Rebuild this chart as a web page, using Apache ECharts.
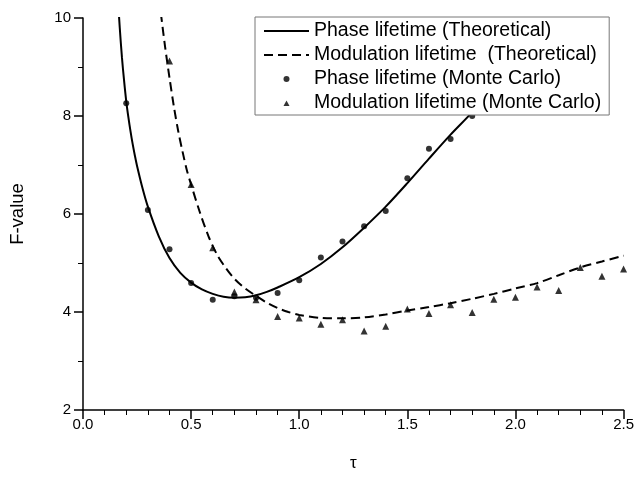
<!DOCTYPE html>
<html><head><meta charset="utf-8">
<script src="https://cdn.jsdelivr.net/npm/echarts@6/dist/echarts.min.js"></script>
<style>html,body{margin:0;padding:0;background:#fff}#c{width:637px;height:477px}</style>
</head><body><div id="c"></div>
<script>
// Theoretical curves
const phaseTheoTau = [0.16,0.17,0.18,0.19,0.20,0.21,0.22,0.23,0.24,0.25,0.275,0.30,0.35,0.40,0.45,0.50,0.55,0.60,0.65,0.70,0.75,0.80,0.85,0.90,1.00,1.10,1.20,1.30,1.40,1.50,1.60,1.70,1.80,1.90,2.00,2.10,2.20];
const phaseTheoF   = [10.5,9.8,9.2,8.72,8.30,7.97,7.68,7.42,7.19,6.98,6.53,6.15,5.55,5.10,4.80,4.60,4.46,4.37,4.31,4.29,4.30,4.34,4.41,4.50,4.71,4.98,5.32,5.72,6.15,6.63,7.13,7.62,8.08,8.6,9.15,9.7,10.3];
const modTheoTau = [0.36,0.38,0.40,0.42,0.44,0.46,0.48,0.50,0.54,0.58,0.62,0.66,0.70,0.75,0.80,0.85,0.90,0.95,1.00,1.10,1.20,1.30,1.40,1.50,1.60,1.70,1.80,1.90,2.00,2.10,2.20,2.30,2.40,2.50];
const modTheoF   = [10.1,9.4,8.78,8.2,7.7,7.28,6.9,6.6,6.04,5.55,5.17,4.90,4.68,4.48,4.33,4.19,4.08,4.00,3.94,3.88,3.87,3.89,3.95,4.03,4.10,4.18,4.27,4.37,4.48,4.59,4.75,4.91,5.03,5.15];
// Monte Carlo points
const phaseMCTau = [0.2,0.3,0.4,0.5,0.6,0.7,0.8,0.9,1.0,1.1,1.2,1.3,1.4,1.5,1.6,1.7,1.8];
const phaseMCF   = [8.26,6.08,5.28,4.59,4.25,4.32,4.29,4.39,4.65,5.11,5.44,5.75,6.06,6.73,7.33,7.53,8.00];
const modMCTau = [0.4,0.5,0.6,0.7,0.8,0.9,1.0,1.1,1.2,1.3,1.4,1.5,1.6,1.7,1.8,1.9,2.0,2.1,2.2,2.3,2.4,2.5];
const modMCF   = [9.12,6.60,5.31,4.41,4.25,3.91,3.88,3.75,3.84,3.61,3.71,4.06,3.97,4.15,3.99,4.26,4.30,4.51,4.44,4.91,4.73,4.88];
const seriesNames = ['Phase lifetime (Theoretical)','Modulation lifetime  (Theoretical)','Phase lifetime (Monte Carlo)','Modulation lifetime (Monte Carlo)'];
const xTicks = {min:0, max:2.5, interval:0.5};
const yTicks = {min:2, max:10, interval:2};

const zip = (a,b)=>a.map((v,i)=>[v,b[i]]);
const FONT = '"Liberation Sans", Arial, sans-serif';
const chart = echarts.init(document.getElementById('c'), null, {renderer:'canvas'});
chart.setOption({
  animation:false,
  backgroundColor:'#fff',
  textStyle:{fontFamily:FONT, color:'#000'},
  grid:{left:83, right:13, top:18, bottom:59, containLabel:false},
  legend:{
    orient:'vertical', left:255, top:17,
    backgroundColor:'#fff', borderColor:'#777', borderWidth:1,
    padding:[4,8,2,8], itemGap:4, itemWidth:45, itemHeight:6,
    symbolKeepAspect:true,
    textStyle:{fontFamily:FONT, fontSize:19.5, color:'#000'},
    data: [
      {name:seriesNames[0], itemStyle:{opacity:0}},
      {name:seriesNames[1], itemStyle:{opacity:0}},
      {name:seriesNames[2]},
      {name:seriesNames[3], icon:'path://M0,0M45,6M19.5,6L22.5,0.5L25.5,6Z'}
    ]
  },
  xAxis:{
    type:'value', min:xTicks.min, max:xTicks.max, interval:xTicks.interval,
    name:'τ', nameLocation:'middle', nameGap:45,
    nameTextStyle:{fontFamily:FONT, fontSize:17, color:'#000'},
    axisLine:{onZero:false, lineStyle:{color:'#000', width:1.5}},
    axisTick:{show:true, inside:false, length:9, lineStyle:{color:'#000', width:1.5}},
    minorTick:{show:true, splitNumber:5, length:5, lineStyle:{color:'#000', width:1}},
    splitLine:{show:false},
    axisLabel:{fontFamily:FONT, fontSize:15, color:'#000', margin:7, formatter:v=>v.toFixed(1)}
  },
  yAxis:{
    type:'value', min:yTicks.min, max:yTicks.max, interval:yTicks.interval,
    name:'F-value', nameLocation:'middle', nameGap:56, nameRotate:90,
    nameTextStyle:{fontFamily:FONT, fontSize:18.5, color:'#000'},
    axisLine:{show:true, onZero:false, lineStyle:{color:'#000', width:1.5}},
    axisTick:{show:true, inside:false, length:9, lineStyle:{color:'#000', width:1.5}},
    minorTick:{show:true, splitNumber:2, length:5, lineStyle:{color:'#000', width:1}},
    splitLine:{show:false},
    axisLabel:{fontFamily:FONT, fontSize:15, color:'#000', margin:12}
  },
  series:[
    {name:seriesNames[0], type:'line', data:zip(phaseTheoTau,phaseTheoF), symbol:'none', showSymbol:false, smooth:0.3, clip:true,
     lineStyle:{color:'#000', width:2, type:'solid'}, itemStyle:{color:'#000'}},
    {name:seriesNames[1], type:'line', data:zip(modTheoTau,modTheoF), symbol:'none', showSymbol:false, smooth:0.3, clip:true,
     lineStyle:{color:'#000', width:2, type:[9,5]}, itemStyle:{color:'#000'}},
    {name:seriesNames[2], type:'scatter', data:zip(phaseMCTau,phaseMCF), symbol:'circle', symbolSize:6,
     itemStyle:{color:'#000'}},
    {name:seriesNames[3], type:'scatter', data:zip(modMCTau,modMCF), symbol:'triangle', symbolSize:7, symbolKeepAspect:true,
     itemStyle:{color:'#000'}}
  ]
});
</script></body></html>
